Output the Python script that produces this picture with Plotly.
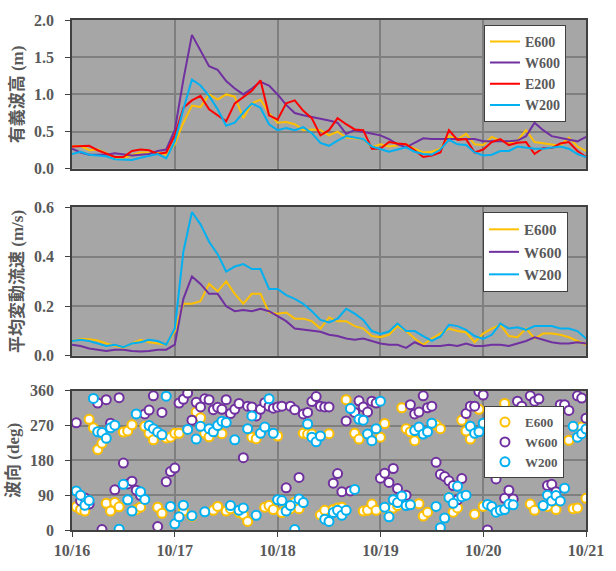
import plotly.graph_objects as go

# ---------------- data ----------------
day_ticks = [0, 24, 48, 72, 96, 120]
day_labels = ["10/16", "10/17", "10/18", "10/19", "10/20", "10/21"]

# 2-hourly time stamps (hours from 10/16 00:00)
t2 = list(range(0, 121, 2))

# Significant wave height (m)
hs_E600 = [0.30, 0.31, 0.25, 0.26, 0.21, 0.14, 0.15, 0.19, 0.22, 0.22, 0.23, 0.19,
           0.33, 0.62, 0.85, 0.83, 1.00, 0.93, 1.00, 0.97, 0.68, 0.88, 0.93, 0.75,
           0.62, 0.63, 0.60, 0.52, 0.53, 0.52, 0.45, 0.50, 0.42, 0.41, 0.40, 0.29,
           0.33, 0.30, 0.32, 0.33, 0.27, 0.22, 0.23, 0.27, 0.44, 0.40, 0.47, 0.33,
           0.32, 0.43, 0.38, 0.35, 0.38, 0.52, 0.36, 0.34, 0.33, 0.31, 0.42, 0.30, 0.24]
hs_W600 = [0.27, 0.22, 0.19, 0.19, 0.19, 0.21, 0.20, 0.18, 0.19, 0.20, 0.24, 0.26,
           0.52, 1.20, 1.80, 1.60, 1.38, 1.33, 1.18, 1.08, 1.00, 1.08, 1.17, 1.12,
           1.00, 0.86, 0.75, 0.72, 0.70, 0.68, 0.65, 0.62, 0.47, 0.52, 0.50, 0.47,
           0.45, 0.40, 0.33, 0.29, 0.35, 0.41, 0.40, 0.40, 0.40, 0.40, 0.39, 0.40,
           0.37, 0.37, 0.36, 0.37, 0.38, 0.44, 0.62, 0.52, 0.44, 0.42, 0.40, 0.37, 0.43]
hs_E200 = [0.30, 0.31, 0.31, 0.25, 0.20, 0.16, 0.16, 0.24, 0.26, 0.25, 0.20, 0.22,
           0.45, 0.82, 0.92, 0.98, 0.80, 0.72, 0.64, 0.88, 0.97, 1.05, 1.19, 0.72,
           0.66, 0.88, 0.92, 0.78, 0.68, 0.45, 0.52, 0.68, 0.60, 0.53, 0.52, 0.27,
           0.27, 0.36, 0.34, 0.33, 0.25, 0.16, 0.18, 0.22, 0.52, 0.39, 0.40, 0.22,
           0.26, 0.36, 0.40, 0.32, 0.35, 0.36, 0.20, 0.28, 0.28, 0.34, 0.36, 0.24, 0.16]
hs_W200 = [0.20, 0.23, 0.19, 0.18, 0.17, 0.13, 0.13, 0.12, 0.15, 0.17, 0.20, 0.14,
           0.37, 0.80, 1.20, 1.12, 0.98, 0.80, 0.58, 0.62, 0.76, 0.88, 0.82, 0.60,
           0.52, 0.55, 0.52, 0.56, 0.48, 0.35, 0.31, 0.38, 0.44, 0.42, 0.40, 0.30,
           0.26, 0.23, 0.26, 0.29, 0.23, 0.20, 0.19, 0.26, 0.39, 0.33, 0.32, 0.22,
           0.18, 0.19, 0.24, 0.24, 0.30, 0.28, 0.27, 0.27, 0.29, 0.30, 0.27, 0.20, 0.16]

# Mean fluctuating current speed (m/s)
u_E600 = [0.060, 0.068, 0.067, 0.062, 0.050, 0.040, 0.032, 0.050, 0.065, 0.055, 0.050, 0.045,
          0.100, 0.210, 0.210, 0.220, 0.290, 0.260, 0.300, 0.250, 0.210, 0.250, 0.250, 0.175,
          0.170, 0.175, 0.150, 0.150, 0.140, 0.110, 0.155, 0.140, 0.140, 0.120, 0.110, 0.080,
          0.075, 0.085, 0.120, 0.100, 0.070, 0.045, 0.070, 0.090, 0.110, 0.100, 0.095, 0.055,
          0.090, 0.110, 0.125, 0.080, 0.075, 0.110, 0.070, 0.090, 0.090, 0.085, 0.075, 0.060, 0.045]
u_W600 = [0.045, 0.040, 0.030, 0.025, 0.020, 0.025, 0.025, 0.020, 0.018, 0.020, 0.025, 0.025,
          0.045, 0.230, 0.320, 0.290, 0.250, 0.250, 0.200, 0.180, 0.185, 0.180, 0.190, 0.180,
          0.160, 0.140, 0.110, 0.105, 0.100, 0.097, 0.085, 0.080, 0.070, 0.065, 0.070, 0.060,
          0.050, 0.045, 0.045, 0.032, 0.055, 0.040, 0.040, 0.040, 0.045, 0.040, 0.050, 0.040,
          0.040, 0.045, 0.045, 0.040, 0.050, 0.060, 0.075, 0.065, 0.055, 0.050, 0.050, 0.055, 0.050]
u_W200 = [0.060, 0.065, 0.060, 0.050, 0.040, 0.045, 0.035, 0.050, 0.055, 0.065, 0.060, 0.045,
          0.110, 0.420, 0.580, 0.530, 0.460, 0.410, 0.340, 0.360, 0.370, 0.350, 0.350, 0.270,
          0.270, 0.245, 0.230, 0.210, 0.180, 0.145, 0.135, 0.150, 0.190, 0.170, 0.145, 0.100,
          0.088, 0.098, 0.130, 0.100, 0.100, 0.080, 0.060, 0.077, 0.125, 0.120, 0.105, 0.080,
          0.068, 0.085, 0.130, 0.110, 0.115, 0.105, 0.120, 0.120, 0.120, 0.110, 0.110, 0.100, 0.070]

# Wave direction (deg), hourly 01:00 on 10/16 .. 00:00 on 10/21
t1 = list(range(1, 121))
N = None
dir_E600 = [60, 53, 49, 286, 264, 208, 224, 69, 49, 71, 60, 253, 256, 272, 53, 59, 268, 250, 233, 59,
            43, 238, 240, 250, 250, 49, N, 35, 305, 290, 250, 241, 51, 61, 249, 49, 55, N, 45, 40,
            22, 240, 236, N, 59, 63, 53, 243, 45, 53, 55, 72, 55, 250, 248, 248, N, 39, 51, 249,
            53, 57, 59, 337, N, 250, 235, 49, 51, 67, 51, 240, 275, 46, 57, 63, 316, 262, 254, 231,
            68, 36, 46, N, 272, 262, N, 84, 46, 57, 284, 256, 235, 41, 312, 61, N, N, N, N,
            327, N, N, N, N, N, 67, 51, N, N, 61, N, 53, N, N, 232, 55, 57, 266, 82]
dir_W600 = [277, 75, 83, 67, N, 328, 1, 337, 276, 104, 342, 173, 119, 126, 103, 89, 300, 310, 347, 9,
            304, 125, 151, 160, 328, 338, 354, 284, 330, 318, 339, 337, 311, 317, 312, 337, 301, 312, 327, 187,
            320, 318, 295, 312, 329, 320, 315, 318, 320, 109, 320, 311, 136, 300, 304, 332, 345, 320, 318, 318,
            121, 146, 99, 282, 101, 304, 334, 318, 305, 333, 328, 134, 147, 123, 159, 107, 86, 90, 324, 300,
            305, 347, 316, 320, 175, 144, 138, 127, 115, 78, 133, 301, 320, 320, 358, 349, 0, 155, 132, 169,
            82, 103, 80, 333, 320, N, 347, 333, 339, N, 115, 118, 99, 324, 324, 309, N, 347, 341, 289]
dir_W200 = [101, 90, 64, 76, 340, 254, 252, 237, 264, 271, 2, 118, 78, 49, 300, 99, 79, 270, 262, 253,
            246, 346, 61, 16, 34, 64, 260, 37, 235, 268, 47, 262, 254, 270, 281, 278, 63, 233, 51, 57,
            262, 295, 38, 250, 266, 339, 250, 78, 76, 49, 63, 1, 80, 71, 274, 240, 228, 243, 28, 22,
            45, 51, 38, 51, 314, 105, 286, 284, 248, 231, 262, 333, 59, 34, 78, 71, 88, 63, 65, 257,
            266, 248, 254, 276, 61, 6, 31, 84, 69, 113, 86, 90, 268, 250, 254, 276, 66, 61, 46, 51,
            53, 67, 65, N, N, N, N, N, N, 63, 90, 75, 89, 75, 108, N, 268, 240, 249, 261]

# ---------------- style ----------------
C_E600, C_W600, C_E200, C_W200 = "#FFC000", "#7030A0", "#FF0000", "#00B0F0"
TXT = "#595959"
SERIF = "Liberation Serif, Times New Roman, serif"
JP = "Liberation Serif, Noto Sans CJK JP, serif"

fig = go.Figure()

def line(x, y, name, color, xa, ya, leg):
    fig.add_trace(go.Scatter(x=x, y=y, name=name, mode="lines",
                             line=dict(color=color, width=2),
                             xaxis=xa, yaxis=ya, legend=leg))

line(t2, hs_E600, "E600", C_E600, "x", "y", "legend")
line(t2, hs_W600, "W600", C_W600, "x", "y", "legend")
line(t2, hs_E200, "E200", C_E200, "x", "y", "legend")
line(t2, hs_W200, "W200", C_W200, "x", "y", "legend")

line(t2, u_E600, "E600", C_E600, "x2", "y2", "legend2")
line(t2, u_W600, "W600", C_W600, "x2", "y2", "legend2")
line(t2, u_W200, "W200", C_W200, "x2", "y2", "legend2")

for y, name, color in [(dir_E600, "E600", C_E600), (dir_W600, "W600", C_W600), (dir_W200, "W200", C_W200)]:
    fig.add_trace(go.Scatter(x=t1, y=y, name=name, mode="markers",
                             marker=dict(symbol="circle", size=9, color="white",
                                         line=dict(color=color, width=2)),
                             xaxis="x3", yaxis="y3", legend="legend3"))

H = 531.0
doms = {1: [376 / H, 1.0], 2: [181.3 / H, 336.3 / H], 3: [0.0, 145 / H]}

common_x = dict(range=[0, 120], tickvals=day_ticks, ticktext=day_labels,
                showgrid=True, gridcolor="#7F7F7F", gridwidth=1.5,
                showline=True, linecolor="#404040", linewidth=1.5, mirror=True,
                zeroline=False, domain=[0, 1], ticklabeloverflow="allow",
                tickfont=dict(family=SERIF, size=16, color=TXT, weight="bold"))
common_y = dict(showgrid=True, gridcolor="#7F7F7F", gridwidth=1.5,
                showline=True, linecolor="#404040", linewidth=1.5, mirror=True,
                zeroline=False, ticks="outside", ticklen=5, tickcolor="#404040",
                ticklabelstandoff=8,
                tickfont=dict(family=SERIF, size=16, color=TXT, weight="bold"))

def ytitle(t):
    return dict(text=t, font=dict(family=JP, size=17, color=TXT, weight="bold"), standoff=6)

def legfont(s):
    return dict(family=SERIF, size=s, color=TXT, weight="bold")

leg_common = dict(bgcolor="white", bordercolor="#404040", borderwidth=1,
                  xanchor="left", yanchor="top", tracegroupgap=0)

fig.update_layout(
    width=616, height=571,
    margin=dict(l=66, r=16, t=12, b=28),
    paper_bgcolor="white", plot_bgcolor="#A6A6A6",
    xaxis=dict(common_x, anchor="y", showticklabels=False),
    xaxis2=dict(common_x, anchor="y2", showticklabels=False),
    xaxis3=dict(common_x, anchor="y3", showticklabels=True, ticks="outside", ticklen=5,
                tickcolor="#404040"),
    yaxis=dict(common_y, domain=doms[1], range=[0, 2.0], dtick=0.5, tickformat=".1f",
               title=ytitle("有義波高 (m)")),
    yaxis2=dict(common_y, domain=doms[2], range=[0, 0.6], dtick=0.2, tickformat=".1f",
                title=ytitle("平均変動流速 (m/s)")),
    yaxis3=dict(common_y, domain=doms[3], range=[0, 360], dtick=90,
                title=ytitle("波向 (deg)")),
    legend=dict(leg_common, x=(494 - 66) / 534, y=(543 - 17) / H, font=legfont(14)),
    legend2=dict(leg_common, x=(493 - 66) / 534, y=(543 - 212) / H, font=legfont(15)),
    legend3=dict(leg_common, x=(494 - 66) / 534, y=(543 - 414) / H, font=legfont(13)),
)

fig.write_html("out.html")
